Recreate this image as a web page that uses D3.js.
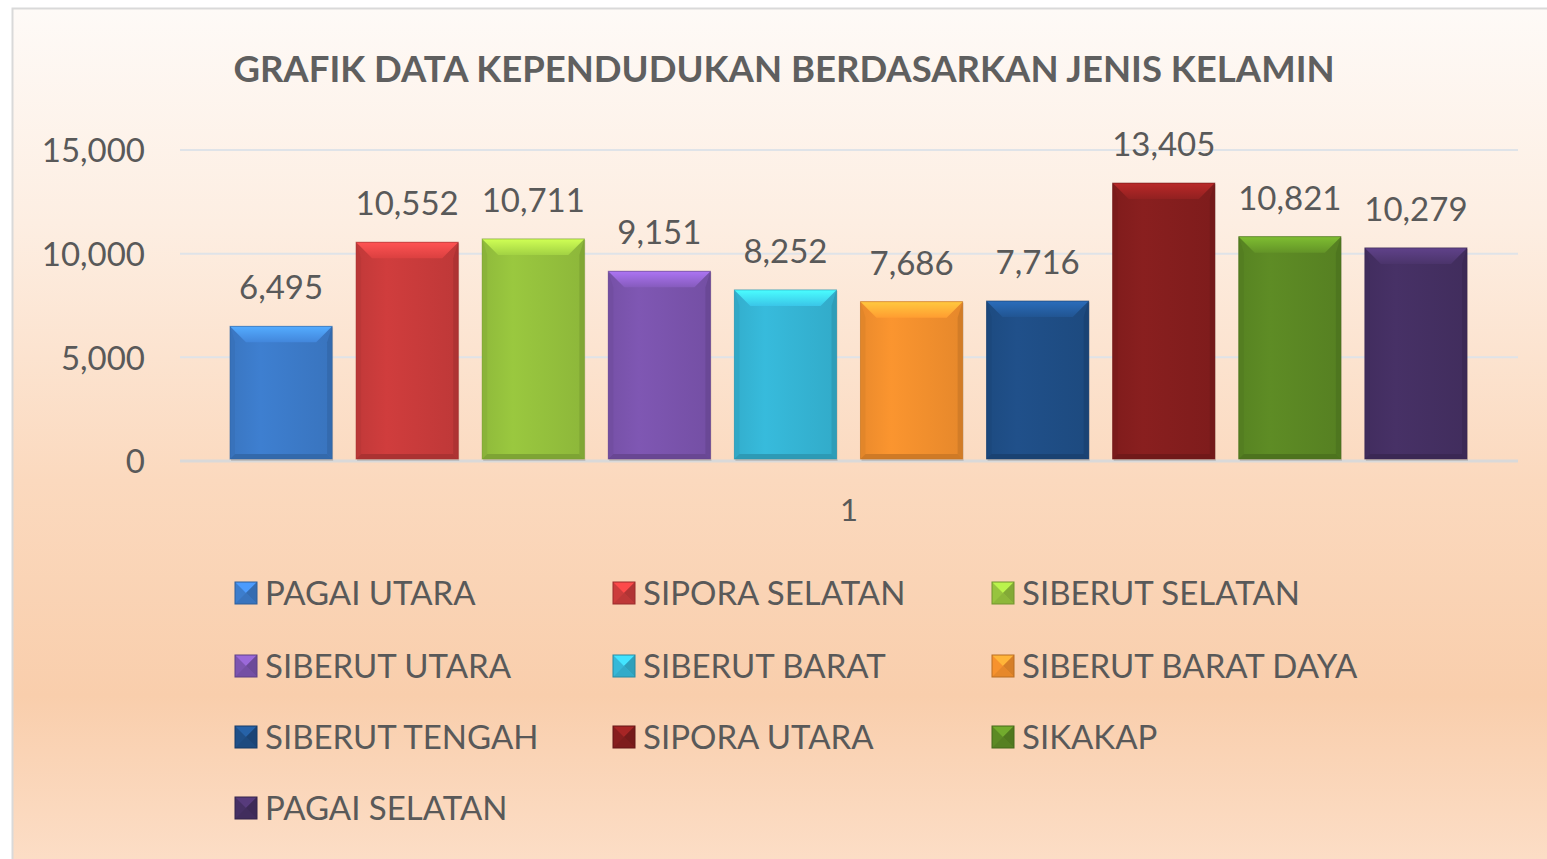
<!DOCTYPE html>
<html>
<head>
<meta charset="utf-8">
<script src="https://cdnjs.cloudflare.com/ajax/libs/d3/7.8.5/d3.min.js"></script>
<style>
  html, body { margin: 0; padding: 0; background: #fff; overflow: hidden; }
  text { font-family: Lato, "Open Sans", sans-serif; }
</style>
</head>
<body>
<div id="chart"></div>
<script>
// data
var kecamatan = ["PAGAI UTARA", "SIPORA SELATAN", "SIBERUT SELATAN", "SIBERUT UTARA", "SIBERUT BARAT",
                 "SIBERUT BARAT DAYA", "SIBERUT TENGAH", "SIPORA UTARA", "SIKAKAP", "PAGAI SELATAN"];
var jumlah = [6495, 10552, 10711, 9151, 8252, 7686, 7716, 13405, 10821, 10279];
var warna = ["#3d7dcc", "#cc3c3c", "#97c43e", "#7d55b0", "#36b8d8", "#f7922e", "#1f4f88", "#871e1e", "#5c8a24", "#463064"];
var yTicks = [0, 5000, 10000, 15000];
var kategori = ["1"];

var width = 1547, height = 859;

var svg = d3.select("#chart").append("svg")
    .attr("width", width)
    .attr("height", height);

var defs = svg.append("defs");

// background of the chart area
var bg = defs.append("linearGradient").attr("id", "bg")
    .attr("x1", 0).attr("y1", 0).attr("x2", 0).attr("y2", 1);
bg.append("stop").attr("offset", "0%").attr("stop-color", "#fefaf7");
bg.append("stop").attr("offset", "25%").attr("stop-color", "#fdeee2");
bg.append("stop").attr("offset", "55%").attr("stop-color", "#fbd9be");
bg.append("stop").attr("offset", "80%").attr("stop-color", "#f9ceac");
bg.append("stop").attr("offset", "100%").attr("stop-color", "#fcdec7");

svg.append("rect")
    .attr("x", 12.5).attr("y", 8.5)
    .attr("width", width).attr("height", height)
    .attr("fill", "url(#bg)")
    .attr("stroke", "#d9d9d9")
    .attr("stroke-width", 2);

svg.append("text")
    .attr("x", 784).attr("y", 82)
    .attr("text-anchor", "middle")
    .attr("font-size", 36.5)
    .attr("font-weight", "bold")
    .attr("fill", "#5f5f5f")
    .text("GRAFIK DATA KEPENDUDUKAN BERDASARKAN JENIS KELAMIN");

// scales
var plotLeft = 180, plotRight = 1518;
var y = d3.scaleLinear().domain([0, 15000]).range([461, 150]);
var x0 = d3.scaleBand().domain(kategori).range([plotLeft, plotRight]);
var x = d3.scaleBand().domain(kecamatan)
    .range([230, 1467])
    .paddingInner(0.19);

// gridlines
svg.append("g").selectAll("line")
    .data(yTicks)
    .join("line")
    .attr("x1", plotLeft).attr("x2", plotRight)
    .attr("y1", function(d) { return y(d); })
    .attr("y2", function(d) { return y(d); })
    .attr("stroke", function(d) { return d === 0 ? "#d9d9d9" : "#dfe3e8"; })
    .attr("stroke-width", function(d) { return d === 0 ? 3 : 2; });

// y axis labels
var yAxis = d3.axisLeft(y).tickValues(yTicks).tickFormat(d3.format(",")).tickSize(0).tickPadding(0);
var gy = svg.append("g").attr("transform", "translate(145,0)").call(yAxis);
gy.select(".domain").remove();
gy.selectAll("text")
    .attr("font-size", 33)
    .attr("fill", "#595959")
    .attr("font-family", "Lato, 'Open Sans', sans-serif")
    .attr("dy", "0.36em");

// category axis label
svg.append("text")
    .attr("x", x0(kategori[0]) + x0.bandwidth() / 2)
    .attr("y", 521)
    .attr("text-anchor", "middle")
    .attr("font-size", 31)
    .attr("fill", "#595959")
    .text(kategori[0]);

// bars with bevel look
var bev = 16;
var bars = svg.append("g").selectAll("g")
    .data(jumlah)
    .join("g");

bars.each(function(d, i) {
    var g = d3.select(this);
    var bx = x(kecamatan[i]), bw = x.bandwidth();
    var top = y(d), bottom = y(0) - 2;
    var c = d3.color(warna[i]);
    var gid = "bar" + i;
    var gr = defs.append("linearGradient").attr("id", gid)
        .attr("x1", 0).attr("y1", 0).attr("x2", 1).attr("y2", 0);
    gr.append("stop").attr("offset", "0%").attr("stop-color", c.darker(0.15));
    gr.append("stop").attr("offset", "30%").attr("stop-color", c.brighter(0.05));
    gr.append("stop").attr("offset", "100%").attr("stop-color", c.darker(0.2));
    var tg = defs.append("linearGradient").attr("id", gid + "t")
        .attr("x1", 0).attr("y1", 0).attr("x2", 0).attr("y2", 1);
    tg.append("stop").attr("offset", "0%").attr("stop-color", c.brighter(0.9));
    tg.append("stop").attr("offset", "100%").attr("stop-color", c.brighter(0.2));

    // shadow
    g.append("rect")
        .attr("x", bx + 1).attr("y", top + 1)
        .attr("width", bw).attr("height", bottom - top + 1)
        .attr("fill", "rgba(0,0,0,0.12)");
    g.append("rect")
        .attr("x", bx).attr("y", top)
        .attr("width", bw).attr("height", bottom - top)
        .attr("fill", "url(#" + gid + ")");
    // top bevel
    g.append("polygon")
        .attr("points", [[bx, top], [bx + bw, top], [bx + bw - bev, top + bev], [bx + bev, top + bev]].join(" "))
        .attr("fill", "url(#" + gid + "t)");
    // right edge
    g.append("polygon")
        .attr("points", [[bx + bw, top], [bx + bw, bottom], [bx + bw - 5, bottom - 5], [bx + bw - 5, top + bev]].join(" "))
        .attr("fill", c.darker(0.45));
    // left edge
    g.append("polygon")
        .attr("points", [[bx, top], [bx, bottom], [bx + 5, bottom - 5], [bx + 5, top + bev]].join(" "))
        .attr("fill", c.darker(0.25));
    // bottom edge
    g.append("polygon")
        .attr("points", [[bx, bottom], [bx + bw, bottom], [bx + bw - 5, bottom - 5], [bx + 5, bottom - 5]].join(" "))
        .attr("fill", c.darker(0.5));
    g.append("rect")
        .attr("x", bx).attr("y", top)
        .attr("width", bw).attr("height", bottom - top)
        .attr("fill", "none")
        .attr("stroke", c.darker(0.6))
        .attr("stroke-opacity", 0.6)
        .attr("stroke-width", 1);
});

// data labels
svg.append("g").selectAll("text")
    .data(jumlah)
    .join("text")
    .attr("x", function(d, i) { return x(kecamatan[i]) + x.bandwidth() / 2; })
    .attr("y", function(d) { return y(d) - 27; })
    .attr("text-anchor", "middle")
    .attr("font-size", 33)
    .attr("fill", "#595959")
    .text(function(d) { return d3.format(",")(d); });

// legend
var legX = [235, 613, 992], legY = [605, 678, 749, 820];
var leg = svg.append("g").selectAll("g")
    .data(kecamatan)
    .join("g")
    .attr("transform", function(d, i) {
        return "translate(" + legX[i % 3] + "," + legY[Math.floor(i / 3)] + ")";
    });

leg.each(function(d, i) {
    var g = d3.select(this);
    var c = d3.color(warna[i]);
    var s = 22, t = -s - 1;
    g.append("rect").attr("x", 0).attr("y", t).attr("width", s).attr("height", s)
        .attr("fill", c);
    g.append("polygon")
        .attr("points", [[0, t], [s, t], [s / 2, t + s / 2]].join(" "))
        .attr("fill", c.brighter(0.6));
    g.append("polygon")
        .attr("points", [[s, t], [s, t + s], [s / 2, t + s / 2]].join(" "))
        .attr("fill", c.darker(0.4));
    g.append("polygon")
        .attr("points", [[0, t + s], [s, t + s], [s / 2, t + s / 2]].join(" "))
        .attr("fill", c.darker(0.2));
    g.append("rect").attr("x", 0).attr("y", t).attr("width", s).attr("height", s)
        .attr("fill", "none").attr("stroke", c.darker(0.8)).attr("stroke-width", 1);
    g.append("text")
        .attr("x", 30).attr("y", 0)
        .attr("font-size", 33)
        .attr("fill", "#595959")
        .text(d);
});
</script>
</body>
</html>
